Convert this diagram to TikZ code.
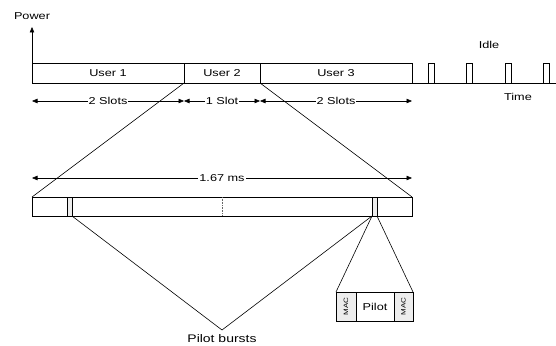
\documentclass[tikz,border=0pt]{standalone}
\usepackage{fontspec}
\setmainfont{Liberation Sans}[FakeStretch=1.27]
\usetikzlibrary{arrows.meta,calc}
\begin{document}
\begin{tikzpicture}[x=1pt,y=-1pt,
  line width=0.6pt,
  box/.style={draw=black,line width=0.8pt,inner sep=0pt,outer sep=0pt,anchor=north west,font=\fontsize{10}{12}\selectfont},
  gbox/.style={box,fill=black!7},
  txt/.style={inner sep=1pt,font=\fontsize{10}{12}\selectfont},
  lbl/.style={fill=white,inner sep=1pt,font=\fontsize{10}{12}\selectfont},
  mac/.style={rotate=90,inner sep=0pt,font=\fontsize{6.3}{7}\selectfont},
  dim/.style={{Triangle[length=5.5pt,width=4.5pt]}-{Triangle[length=5.5pt,width=4.5pt]}},
  conn/.style={draw=black,line width=0.6pt}]
\useasboundingbox (0,0) rectangle (556,345);
% top bar
\node[box,minimum width=152,minimum height=20] (u1) at (32,63) {User 1};
\node[box,minimum width=76,minimum height=20] (u2) at (184,63) {User 2};
\node[box,minimum width=152,minimum height=20] (u3) at (260,63) {User 3};
% idle pulses
\foreach \i/\xx in {1/428,2/466.5,3/505,4/543}
  \node[box,minimum width=6,minimum height=20] (p\i) at (\xx,63) {};
\coordinate (bend) at (556,83);
\draw[line width=0.8pt] (u3.south east) -- (bend);
% power axis
\coordinate (ptop) at (32,27);
\draw[-{Triangle[length=5.5pt,width=4.5pt]}] (u1.south west) -- (ptop);
\node[txt] (power) at (32,16) {Power};
\node[txt] (idle) at (489,45) {Idle};
\node[txt] (time) at (518,97) {Time};
% slot dimensions
\coordinate (d0) at (32,101);
\coordinate (d1) at (184,101);
\coordinate (d2) at (260,101);
\coordinate (d3) at (412,101);
\draw[dim] (d0) -- node[lbl] (s1) {2 Slots} (d1);
\draw[dim] (d1) -- node[lbl] (s2) {1 Slot} (d2);
\draw[dim] (d2) -- node[lbl] (s3) {2 Slots} (d3);
% lower frame
\node[box,minimum width=380,minimum height=19] (frame) at (32,197) {};
\draw[conn] (u1.south east) -- (frame.north west);
\draw[conn] (u2.south east) -- (frame.north east);
\coordinate (m0) at (32,178);
\coordinate (m1) at (412,178);
\draw[dim] (m0) -- node[lbl] (ms) {1.67 ms} (m1);
\draw[black!60,densely dotted,line width=0.6pt] (frame.north) -- (frame.south);
% pilot bursts
\node[gbox,minimum width=5,minimum height=19] (pb1) at (67,197) {};
\node[gbox,minimum width=5,minimum height=19] (pb2) at (372,197) {};
\coordinate (apex) at (222,330);
\node[txt,font=\fontsize{11}{13}\selectfont] (pbl) at (222,339) {Pilot bursts};
\draw[conn] (pb1.south east) -- (apex) -- (pb2.south west);
% MAC / Pilot box
\node[gbox,minimum width=20,minimum height=29] (mac1) at (336,292) {};
\node[box,minimum width=38,minimum height=29] (pilot) at (356,292) {Pilot};
\node[gbox,minimum width=19,minimum height=29] (mac2) at (394,292) {};
\node[mac] (mt1) at (mac1.center) {MAC};
\node[mac] (mt2) at (mac2.center) {MAC};
\draw[conn] (pb2.south west) -- (mac1.north west);
\draw[conn] (pb2.south east) -- (mac2.north east);
\end{tikzpicture}
\end{document}
